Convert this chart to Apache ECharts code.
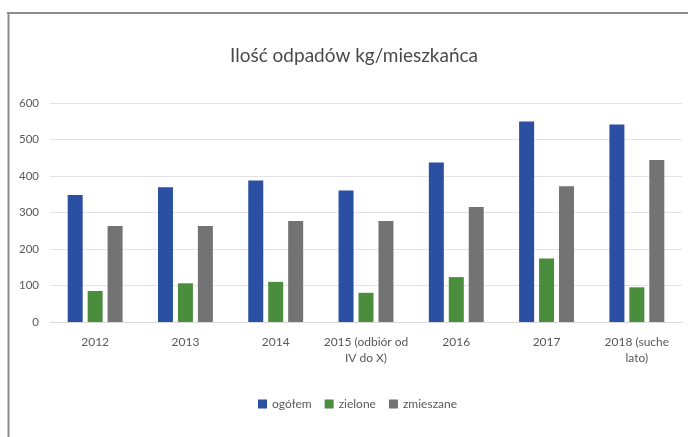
<!DOCTYPE html>
<html><head><meta charset="utf-8">
<script src="https://cdn.jsdelivr.net/npm/echarts@6/dist/echarts.min.js"></script>
<style>html,body{margin:0;padding:0;background:#fff;}#c{width:688px;height:437px;}</style>
</head><body><div id="c"></div>
<script>
const categories = ['2012','2013','2014','2015 (odbiór od\nIV do X)','2016','2017','2018 (suche\nlato)'];
const ogolem = [348, 369, 388, 360, 437, 549, 541];
const zielone = [85, 106, 110, 80, 123, 174, 95];
const zmieszane = [263, 263, 277, 277, 315, 372, 444];
const yTicks = [0, 100, 200, 300, 400, 500, 600];

const chart = echarts.init(document.getElementById('c'));
const font = 'Lato, "Open Sans", sans-serif';
chart.setOption({
  animation: false,
  backgroundColor: '#fff',
  graphic: [
    {type: 'line', shape: {x1: 7, y1: 13, x2: 688, y2: 13}, style: {stroke: '#8c8c8c', lineWidth: 2}},
    {type: 'line', shape: {x1: 8.5, y1: 12, x2: 8.5, y2: 437}, style: {stroke: '#8c8c8c', lineWidth: 2}}
  ],
  title: {
    text: 'Ilość odpadów kg/mieszkańca',
    left: 349, top: 41, textAlign: 'center',
    textStyle: {fontFamily: font, fontSize: 19, fontWeight: 'normal', color: '#4a4a4a'}
  },
  legend: {
    bottom: 22, left: 253,
    itemWidth: 9, itemHeight: 9, itemGap: 13,
    icon: 'rect',
    textStyle: {fontFamily: font, fontSize: 12, color: '#595959'},
    data: ['ogółem', 'zielone', 'zmieszane']
  },
  grid: {left: 50, right: 6, top: 103, bottom: 115, containLabel: false},
  xAxis: {
    type: 'category', data: categories,
    axisLine: {lineStyle: {color: '#d9d9d9'}},
    axisTick: {show: false},
    axisLabel: {fontFamily: font, fontSize: 12, color: '#595959', margin: 12, lineHeight: 16, interval: 0}
  },
  yAxis: {
    type: 'value', min: 0, max: 600, interval: 100,
    axisLabel: {fontFamily: font, fontSize: 11.5, color: '#595959', margin: 11,
      formatter: v => yTicks.includes(v) ? String(v) : ''},
    splitLine: {lineStyle: {color: '#e3e3e3'}},
    axisLine: {show: false}, axisTick: {show: false}
  },
  series: [
    {name: 'ogółem', type: 'bar', data: ogolem, barWidth: 15, barGap: '33%', itemStyle: {color: '#2b4fa2'}},
    {name: 'zielone', type: 'bar', data: zielone, barWidth: 15, barGap: '33%', itemStyle: {color: '#4a8d3d'}},
    {name: 'zmieszane', type: 'bar', data: zmieszane, barWidth: 15, barGap: '33%', itemStyle: {color: '#737373'}}
  ]
});
</script></body></html>
